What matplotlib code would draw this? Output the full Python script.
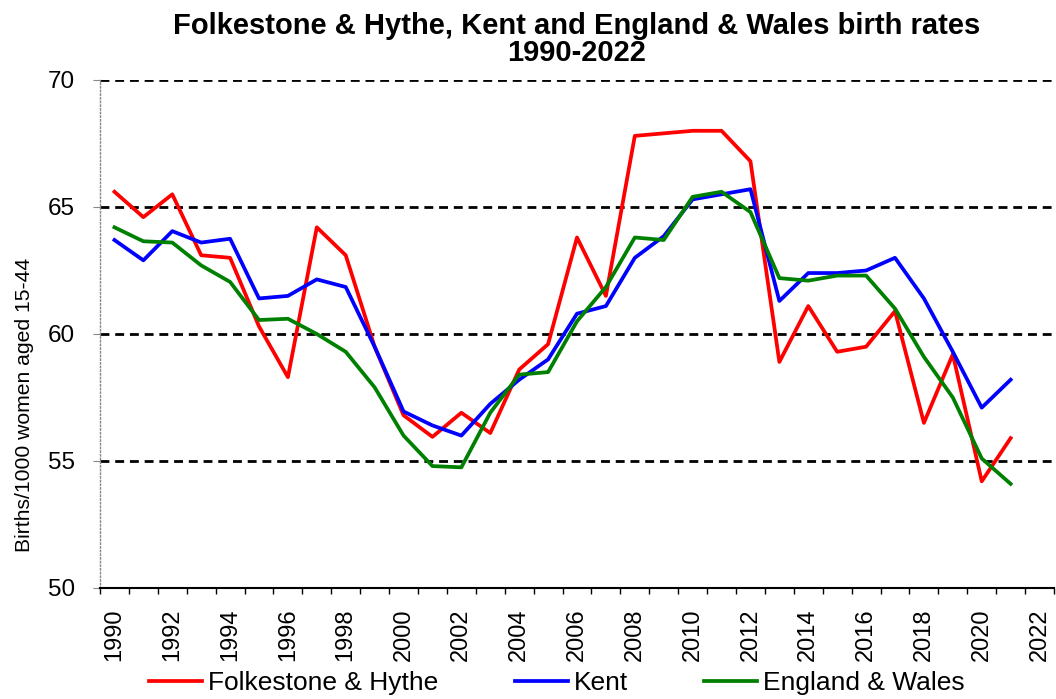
import matplotlib
matplotlib.use("Agg")
import matplotlib.pyplot as plt
from matplotlib.ticker import FixedLocator, NullFormatter, FixedFormatter

plt.rcParams["font.family"] = ["Liberation Sans", "DejaVu Sans"]

years = list(range(1990, 2022))
axis_years = list(range(1990, 2023))
folkestone = [65.6, 64.6, 65.5, 63.1, 63.0, 60.3, 58.3, 64.2, 63.1, 59.5,
              56.8, 55.95, 56.9, 56.1, 58.6, 59.6, 63.8, 61.5, 67.8, 67.9,
              68.0, 68.0, 66.8, 58.9, 61.1, 59.3, 59.5, 60.9, 56.5, 59.2,
              54.2, 55.9]
kent = [63.7, 62.9, 64.05, 63.6, 63.75, 61.4, 61.5, 62.15, 61.85, 59.5,
        56.95, 56.4, 56.0, 57.25, 58.2, 59.0, 60.8, 61.1, 63.0, 63.85,
        65.3, 65.5, 65.7, 61.3, 62.4, 62.4, 62.5, 63.0, 61.4, 59.3,
        57.1, 58.2]
eng_wales = [64.2, 63.65, 63.6, 62.7, 62.05, 60.55, 60.6, 60.0, 59.3, 57.9,
             56.0, 54.8, 54.75, 56.9, 58.4, 58.5, 60.5, 61.85, 63.8, 63.7,
             65.4, 65.6, 64.8, 62.2, 62.1, 62.3, 62.3, 61.0, 59.1, 57.5,
             55.1, 54.1]
yticks = [50, 55, 60, 65, 70]

fig = plt.figure(figsize=(10.56, 6.99), dpi=100)
ax = fig.add_axes([100 / 1056, 1 - 588 / 699, 954 / 1056, 508 / 699])

x = [axis_years.index(y) for y in years]
ax.plot(x, folkestone, color="#ff0000", linewidth=2.7, label="Folkestone & Hythe")
ax.plot(x, kent, color="#0000ff", linewidth=2.7, label="Kent")
ax.plot(x, eng_wales, color="#008000", linewidth=2.7, label="England & Wales")

ax.set_xlim(-0.5, len(axis_years) - 0.5)
ax.set_ylim(50, 70)
ax.set_yticks(yticks)
ax.yaxis.grid(True, color="black", linestyle=(0, (3.2, 2.1)), linewidth=2.0)
ax.set_axisbelow(True)

# tick marks between categories, labels on every other category
ax.xaxis.set_major_locator(FixedLocator([i - 0.5 for i in range(len(axis_years) + 1)]))
ax.xaxis.set_major_formatter(NullFormatter())
lab_pos = list(range(0, len(axis_years), 2))
ax.xaxis.set_minor_locator(FixedLocator(lab_pos))
ax.xaxis.set_minor_formatter(FixedFormatter([str(axis_years[i]) for i in lab_pos]))
ax.tick_params(axis="x", which="major", length=4.5, width=1, color="black", direction="out")
ax.tick_params(axis="x", which="minor", length=0, labelsize=17, labelrotation=90, pad=15)
ax.tick_params(axis="y", length=5, width=0.8, color="#888888", labelsize=17.5, pad=13)

for side in ("top", "right"):
    ax.spines[side].set_visible(False)
ax.spines["bottom"].set_color("black")
ax.spines["bottom"].set_linewidth(1.5)
ax.spines["left"].set_color("#888888")
ax.spines["left"].set_linestyle(":")
ax.spines["left"].set_linewidth(1)

ax.set_ylabel("Births/1000 women aged 15-44", fontsize=15.2)
ax.yaxis.set_label_coords(-0.069, 0.36)
ax.set_title("Folkestone & Hythe, Kent and England & Wales birth rates\n1990-2022",
             fontsize=21, fontweight="bold", pad=14, linespacing=0.95)

fig.legend(loc="center", bbox_to_anchor=(557 / 1056, 1 - 683 / 699), ncol=3,
           frameon=False, fontsize=19, handlelength=2.0, handletextpad=0.23,
           columnspacing=2.9)

fig.savefig("out.png", dpi=100)
